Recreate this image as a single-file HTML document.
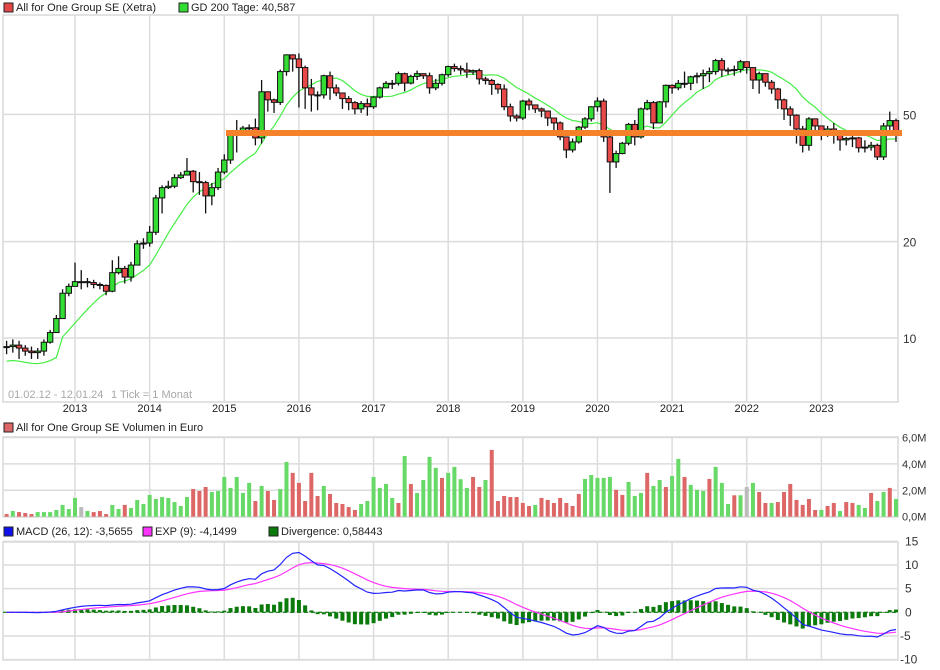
<!DOCTYPE html>
<html><head><meta charset="utf-8"><style>
html,body{margin:0;padding:0;background:#fff;}
svg{display:block;font-family:"Liberation Sans",sans-serif;}
</style></head><body>
<svg id="chart" width="940" height="670" viewBox="0 0 940 670" xmlns="http://www.w3.org/2000/svg">
<g id="grid"></g>
<g id="legend">
  <rect x="4" y="3" width="9" height="9" fill="#e04848" stroke="#222"/>
  <text x="16" y="11" font-size="11" fill="#222">All for One Group SE (Xetra)</text>
  <rect x="179" y="3" width="9" height="9" fill="#33dd33" stroke="#222"/>
  <text x="191" y="11" font-size="11" fill="#222">GD 200 Tage: 40,587</text>
  <rect x="4" y="423" width="9" height="9" fill="#dd6666" stroke="#222"/>
  <text x="16" y="431" font-size="11" fill="#222">All for One Group SE Volumen in Euro</text>
  <rect x="4" y="527" width="9" height="9" fill="#1010ee" stroke="#222"/>
  <text x="16" y="535" font-size="11" fill="#222">MACD (26, 12): -3,5655</text>
  <rect x="143" y="527" width="9" height="9" fill="#ff33ff" stroke="#222"/>
  <text x="155" y="535" font-size="11" fill="#222">EXP (9): -4,1499</text>
  <rect x="269" y="527" width="9" height="9" fill="#0a7a0a" stroke="#222"/>
  <text x="281" y="535" font-size="11" fill="#222">Divergence: 0,58443</text>
  <text x="8" y="398" font-size="11" fill="#a8a8a8">01.02.12 - 12.01.24</text>
  <text x="111" y="398" font-size="11" fill="#a8a8a8">1 Tick = 1 Monat</text>
</g>
<g id="marks"></g>
</svg>
<script>
const years = ["2013","2014","2015","2016","2017","2018","2019","2020","2021","2022","2023"];
const priceTicks = [10,20,50];
const volTicks = [0,2,4,6];
const volTickLabels = ["0,0M","2,0M","4,0M","6,0M"];
const macdTicks = [15,10,5,0,-5,-10];
const supportLevel = 43.7;
const closes = [9.4,9.5,9.3,9.1,9.0,9.1,9.7,10.4,11.5,13.8,
14.5,15.0,15.0,14.9,14.7,14.6,14.0,16.0,16.5,15.5,
16.9,19.7,19.8,21.4,27.4,29.5,29.8,31.7,32.3,33.2,
30.8,30.6,27.8,29.5,33.0,36.0,44.0,44.5,45.3,45.4,
42.2,58.8,55.5,54.5,68.0,76.7,74.5,70.0,60.5,57.5,
57.5,66.0,60.5,58.3,56.0,54.4,52.0,54.0,52.8,56.6,
60.5,62.5,62.5,67.0,62.6,65.7,67.0,66.0,60.5,62.5,
66.5,70.5,69.5,68.8,67.8,68.5,64.5,63.8,62.0,60.0,
52.8,49.4,48.7,55.0,53.5,52.0,51.2,48.7,47.0,42.5,
38.7,41.0,45.6,48.4,52.8,55.0,42.5,35.5,37.7,40.6,
46.5,42.5,52.0,54.4,47.0,54.7,61.6,60.5,62.5,62.5,
65.5,66.0,67.0,68.0,73.6,68.8,68.5,69.0,73.0,70.0,
64.0,67.0,63.0,60.0,55.5,52.0,49.7,45.0,40.0,48.4,
46.0,44.3,45.0,43.4,41.6,42.0,42.2,39.3,39.5,40.0,
36.8,46.0,47.8,43.4];
const highs = [9.8,9.9,9.8,9.5,9.4,9.3,9.9,10.6,11.8,14.2,
14.8,17.2,16.3,15.4,15.2,14.9,14.7,17.5,18.0,16.8,
17.3,20.2,20.5,22.4,28.0,30.0,31.0,32.5,33.0,36.5,
33.5,33.0,31.0,30.5,34.0,37.5,44.5,48.0,46.0,46.5,
48.5,64.0,59.0,56.0,69.0,77.0,77.0,77.5,71.0,64.5,
59.0,66.5,68.0,62.0,58.5,57.0,55.0,55.0,56.0,57.0,
61.0,63.5,64.0,68.0,67.5,66.5,68.5,67.0,67.5,64.5,
67.0,71.0,72.0,71.0,72.5,69.0,69.5,65.5,64.5,62.5,
62.0,54.0,50.0,55.5,56.0,53.0,52.5,49.5,48.5,47.5,
41.5,42.0,46.0,49.0,53.0,56.5,56.0,43.0,38.5,41.0,
47.0,48.0,52.5,55.5,55.0,55.0,62.0,62.0,64.0,68.0,
66.0,67.5,69.0,70.0,74.5,75.0,70.0,71.0,74.0,73.0,
70.0,68.0,67.0,64.0,60.5,56.0,53.0,50.0,46.0,49.0,
48.5,45.5,46.0,47.0,43.5,42.5,44.0,42.5,41.5,41.0,
40.5,47.0,51.0,48.5];
const lows = [8.9,9.0,8.6,8.8,8.6,8.6,8.8,9.6,10.4,11.5,
13.5,14.5,14.2,14.4,14.3,14.2,13.6,13.9,15.8,14.8,
15.0,17.0,19.0,19.3,21.0,24.5,29.2,29.4,31.4,32.5,
28.5,28.0,24.5,26.0,29.0,32.5,35.0,38.0,43.0,44.5,
40.0,40.5,51.0,50.5,53.5,66.0,68.0,52.5,52.0,51.0,
51.5,56.0,55.5,57.0,52.0,51.5,50.0,50.5,49.5,52.0,
56.0,61.5,60.0,61.5,59.0,62.0,64.0,64.5,58.0,59.5,
61.5,65.5,68.0,66.5,65.0,66.5,62.0,62.0,57.5,58.0,
51.5,47.5,47.5,48.0,51.5,50.5,49.0,46.0,44.0,41.5,
36.5,38.0,40.5,45.0,47.5,51.0,41.0,28.4,34.0,37.5,
40.0,40.0,42.0,51.5,45.0,47.5,52.5,58.0,59.5,60.5,
59.5,62.5,60.0,63.0,66.5,65.5,66.5,66.0,67.5,67.0,
60.0,58.0,61.0,58.0,52.0,48.0,46.0,40.5,38.0,38.5,
43.0,41.5,42.5,40.5,38.5,40.0,39.5,38.0,38.0,38.5,
36.0,36.0,44.0,41.0];
const volumes = [0.2,0.43,0.35,0.28,0.2,0.35,0.35,0.35,0.51,0.89,
0.58,1.42,0.73,0.43,0.35,0.43,0.2,0.89,0.58,0.89,
0.66,1.27,0.96,1.65,1.34,1.49,1.42,1.11,0.81,1.49,
2.1,1.95,2.25,1.87,1.95,3.01,2.18,3.01,1.8,2.56,
1.19,2.33,1.95,1.27,2.1,4.15,3.32,2.56,1.19,3.32,
1.57,2.33,1.72,1.04,0.96,0.73,0.51,0.96,1.19,3.01,
2.18,2.48,1.42,1.04,4.6,2.48,1.8,2.78,4.53,3.7,
2.94,3.32,3.77,
2.84,2.18,3.01,2.25,2.78,5.06,1.19,1.57,1.49,1.49,
1.04,0.81,0.89,1.42,1.27,1.04,1.42,1.04,0.81,1.72,
2.86,3.16,2.94,2.94,3.01,2.03,1.65,2.63,1.57,1.8,
3.32,2.33,2.78,2.25,3.09,4.38,3.01,2.41,2.03,1.95,
2.86,3.77,2.56,0.96,1.62,1.62,2.25,2.56,1.87,1.04,
1.04,1.11,1.87,2.48,1.27,0.89,1.34,0.51,0.51,0.81,
1.04,0.43,1.11,1.04,0.89,0.66,1.8,1.19,1.87,2.18,1.34];
const volDirs = "rgrrrgggggggngrrrggrggggggggggrrrggggggg" +
 "rgrrggrrrrrgrrrrrggggggrgrggggrgggg" +
 "rrgrrrrrrr" + "grrrrrrrgg" + "gggrrgggrg" + "grggrgggrg" + "ggrgngrrgr" + "rrrrrrgrrg" + "rrggrggrgg" + "r";

const W0 = 6.6, STEP = (896 - 6.6) / 143;
const xS = i => W0 + i * STEP;
const yP = v => 338 - 320 * Math.log10(v / 10);
const yV = m => 516.7 - m * 13.2;
const yM = v => 612.3 - v * 4.73;
const NS = "http://www.w3.org/2000/svg";
const grid = document.getElementById('grid');
const marks = document.getElementById('marks');
function mk(tag, attrs, parent) {
  const e = document.createElementNS(NS, tag);
  for (const k in attrs) e.setAttribute(k, attrs[k]);
  parent.appendChild(e);
  return e;
}
const panels = [[15, 402, 'price-panel'], [437, 517, 'volume-panel'], [542, 660, 'macd-panel']];
panels.forEach(p => {
  const r = mk('rect', {x: 3, y: p[0], width: 895, height: p[1] - p[0], fill: 'none', stroke: '#d8d8d8', 'stroke-width': 1.5}, grid);
  
  
});
years.forEach((yr, k) => {
  const x = xS(11 + 12 * k);
  panels.forEach(p => {
    const l = mk('line', {x1: x, x2: x, y1: p[0], y2: p[1], stroke: '#dcdcdc', 'stroke-width': 1.5}, grid);
    
    
  });
  const t = mk('text', {x: x, y: 412, 'font-size': 11, fill: '#222', 'text-anchor': 'middle'}, grid);
  t.textContent = yr;
  
  
});
priceTicks.forEach(v => {
  const y = yP(v);
  const l = mk('line', {x1: 3, x2: 898, y1: y, y2: y, stroke: '#dcdcdc', 'stroke-width': 1.5}, grid);
  
  
  const t = mk('text', {x: 903, y: y + 5, 'font-size': 12, fill: '#333'}, grid);
  t.textContent = v;
  
  
});
volTicks.forEach((v, k) => {
  const y = yV(v);
  const l = mk('line', {x1: 3, x2: 898, y1: y, y2: y, stroke: '#dcdcdc', 'stroke-width': 1.5}, grid);
  
  
  const t = mk('text', {x: 902, y: y + 4, 'font-size': 11, fill: '#333'}, grid);
  t.textContent = volTickLabels[k];
  
  
});
macdTicks.forEach(v => {
  const y = yM(v);
  const l = mk('line', {x1: 3, x2: 898, y1: y, y2: y, stroke: '#dcdcdc', 'stroke-width': 1.5}, grid);
  
  
  const t = mk('text', {x: v < 0 ? 900 : 905, y: y + 4, 'font-size': 12, fill: '#333'}, grid);
  t.textContent = v;
  
  
});
let pts = [];
closes.forEach((c, i) => {
  const s = closes.slice(Math.max(0, i - 9), i + 1);
  const avg = s.reduce((a, b) => a + b, 0) / s.length;
  pts.push(xS(i).toFixed(1) + ',' + yP(avg * (i < 9 ? 0.9 : 1)).toFixed(1));
});
const ma = mk('polyline', {points: pts.join(' '), fill: 'none', stroke: '#44ee44', 'stroke-width': 1.2}, marks);


closes.forEach((c, i) => {
  const o = i === 0 ? c : closes[i - 1];
  const x = xS(i);
  const w = mk('line', {x1: x, x2: x, y1: yP(highs[i]), y2: yP(lows[i]), stroke: '#111', 'stroke-width': 1.3}, marks);
  
  
  const top = yP(Math.max(o, c)), bot = yP(Math.min(o, c));
  const b = mk('rect', {x: x - 2.7, y: top, width: 5.4, height: Math.max(1, bot - top), fill: c >= o ? '#33dd33' : '#e84848', stroke: '#111', 'stroke-width': 1}, marks);
  
  
});
const sl = mk('line', {x1: 226, x2: 902, y1: yP(supportLevel), y2: yP(supportLevel), stroke: '#f5822a', 'stroke-width': 6}, marks);


volumes.forEach((v, i) => {
  const d = volDirs[i];
  const r = mk('rect', {x: xS(i) - 2, y: yV(v), width: 4, height: yV(0) - yV(v), fill: d === 'g' ? '#66d966' : d === 'r' ? '#dd6666' : '#bbbbbb'}, marks);
  
  
});
function ema(arr, n) { const a = 2 / (n + 1); let e = arr[0]; return arr.map(v => (e = e + a * (v - e))); }
const e12 = ema(closes, 12), e26 = ema(closes, 26);
const macd = closes.map((_, i) => e12[i] - e26[i]);
const sig = ema(macd, 9);
const zl = mk('line', {x1: 3, x2: 898, y1: yM(0), y2: yM(0), stroke: '#0a7a0a', 'stroke-width': 1.2, 'stroke-dasharray': '4,3'}, marks);


macd.forEach((m, i) => {
  const d = m - sig[i];
  const r = mk('rect', {x: xS(i) - 2, y: Math.min(yM(0), yM(d)), width: 4, height: Math.abs(yM(d) - yM(0)), fill: '#0a7a0a'}, marks);
  
  
});
const sp = mk('polyline', {points: sig.map((v, i) => xS(i).toFixed(1) + ',' + yM(v).toFixed(1)).join(' '), fill: 'none', stroke: '#ff33ff', 'stroke-width': 1.2}, marks);


const mp = mk('polyline', {points: macd.map((v, i) => xS(i).toFixed(1) + ',' + yM(v).toFixed(1)).join(' '), fill: 'none', stroke: '#2222ff', 'stroke-width': 1.2}, marks);


</script>
</body></html>
